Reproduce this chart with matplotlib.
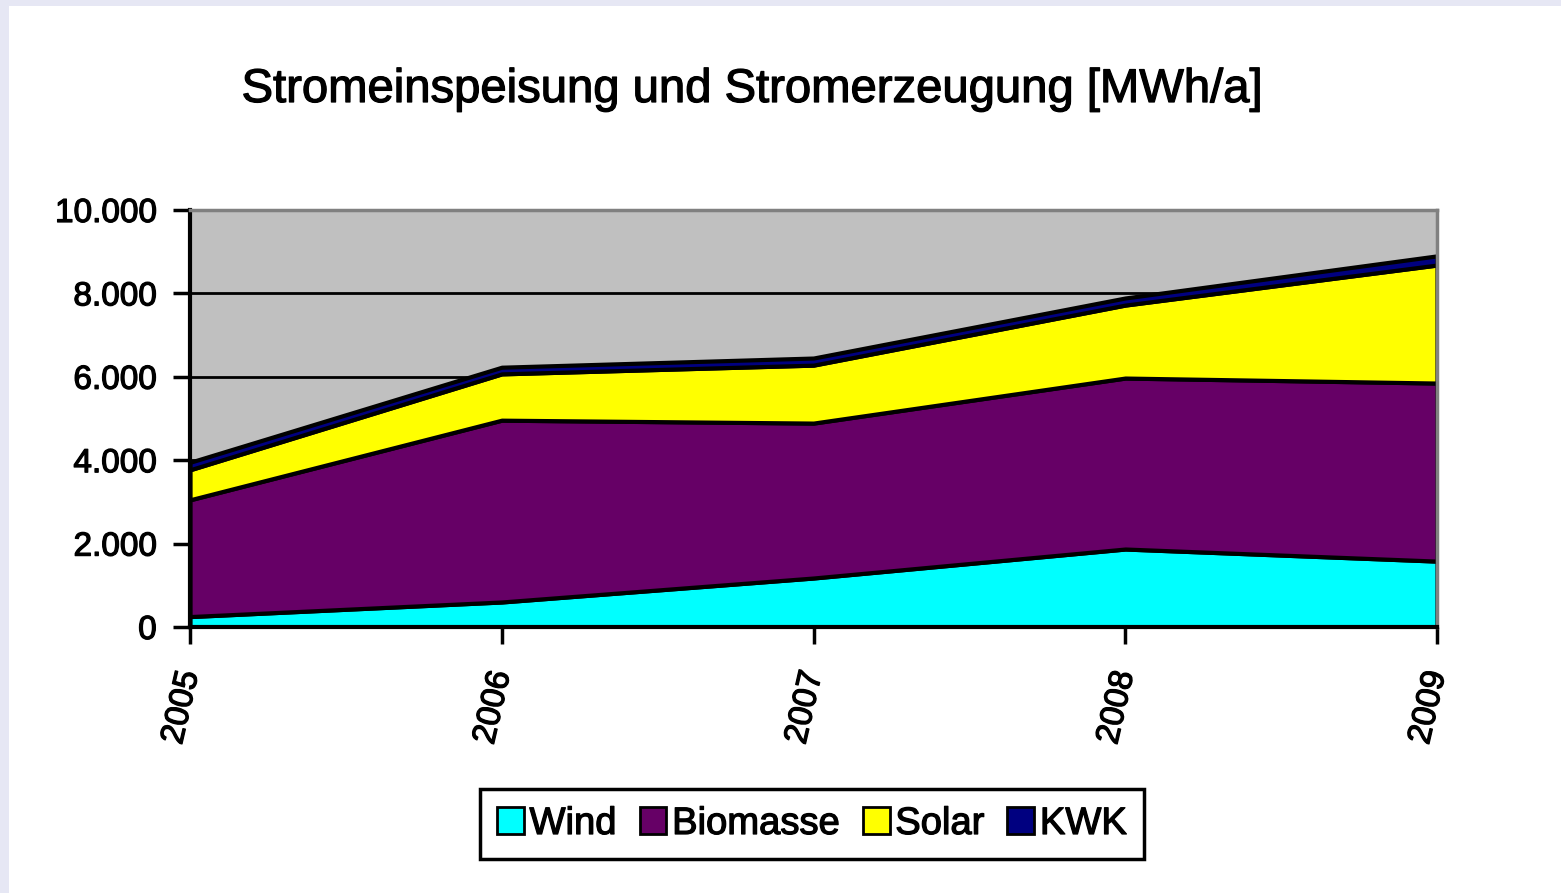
import matplotlib.pyplot as plt
import matplotlib.patheffects as pe
import numpy as np
from matplotlib.patches import Rectangle, Patch
from matplotlib.ticker import FuncFormatter

plt.rcParams['font.family'] = ['Liberation Sans', 'DejaVu Sans']

# data (MWh/a)
years = ['2005', '2006', '2007', '2008', '2009']
wind = [250, 600, 1175, 1870, 1580]
biomasse = [2800, 4360, 3715, 4100, 4270]
solar = [720, 1110, 1390, 1750, 2830]
kwk = [180, 160, 170, 170, 220]

labels = ['Wind', 'Biomasse', 'Solar', 'KWK']
colors = ['#00FFFF', '#660066', '#FFFF00', '#000080']

# slightly heavier text, like the original rendering
heavy = [pe.withStroke(linewidth=0.9, foreground='black')]

fig = plt.figure(figsize=(15.61, 8.93), dpi=100, facecolor='#E6E7F4')
fig.add_artist(Rectangle((9 / 1561, 0), 1, 1 - 6 / 893, transform=fig.transFigure,
                         facecolor='white', edgecolor='none', zorder=0))

ax = fig.add_axes([190 / 1561, 1 - 627 / 893, (1437 - 190) / 1561, (627 - 210) / 893])
ax.set_facecolor('#C0C0C0')

x = np.arange(len(years))
ax.stackplot(x, wind, biomasse, solar, kwk, colors=colors,
             edgecolor='black', linewidth=3, zorder=3)

ax.set_xlim(0, len(years) - 1)
ax.set_ylim(0, 10000)
ax.set_yticks(np.arange(0, 10001, 2000))
ax.yaxis.set_major_formatter(FuncFormatter(lambda v, p: f'{int(v):,}'.replace(',', '.')))
ax.grid(axis='y', color='black', linewidth=2, zorder=1)
ax.set_axisbelow(True)

ax.set_xticks(x)
ax.set_xticklabels(years, rotation=77, ha='right', va='center', rotation_mode='anchor')
ax.tick_params(axis='y', labelsize=24, width=2.5, length=12, color='black', pad=12)
ax.tick_params(axis='x', labelsize=24, width=2.5, length=12, color='black', pad=20)
for lbl in ax.get_xticklabels() + ax.get_yticklabels():
    lbl.set_path_effects(heavy)

for side in ['left', 'bottom']:
    ax.spines[side].set_linewidth(3)
    ax.spines[side].set_color('black')
    ax.spines[side].set_zorder(5)
for side in ['top', 'right']:
    ax.spines[side].set_linewidth(2.5)
    ax.spines[side].set_color('#808080')
    ax.spines[side].set_zorder(5)

fig.text(752 / 1561, 1 - 90 / 893, 'Stromeinspeisung und Stromerzeugung [MWh/a]',
         ha='center', va='center', fontsize=34, path_effects=heavy)

handles = [Patch(facecolor=c, edgecolor='black', linewidth=2) for c in colors]
leg = fig.legend(handles, labels, loc='center', bbox_to_anchor=(812 / 1561, 1 - 824 / 893),
                 ncol=4, fontsize=27.5, frameon=True, fancybox=False, framealpha=1,
                 handlelength=0.7, handleheight=0.7, handletextpad=0.15, columnspacing=0.6,
                 borderpad=0.45, borderaxespad=0)
leg.get_frame().set_edgecolor('black')
leg.get_frame().set_linewidth(2.5)
for t in leg.get_texts():
    t.set_path_effects(heavy)

fig.savefig('out.png', dpi=100, facecolor=fig.get_facecolor())
